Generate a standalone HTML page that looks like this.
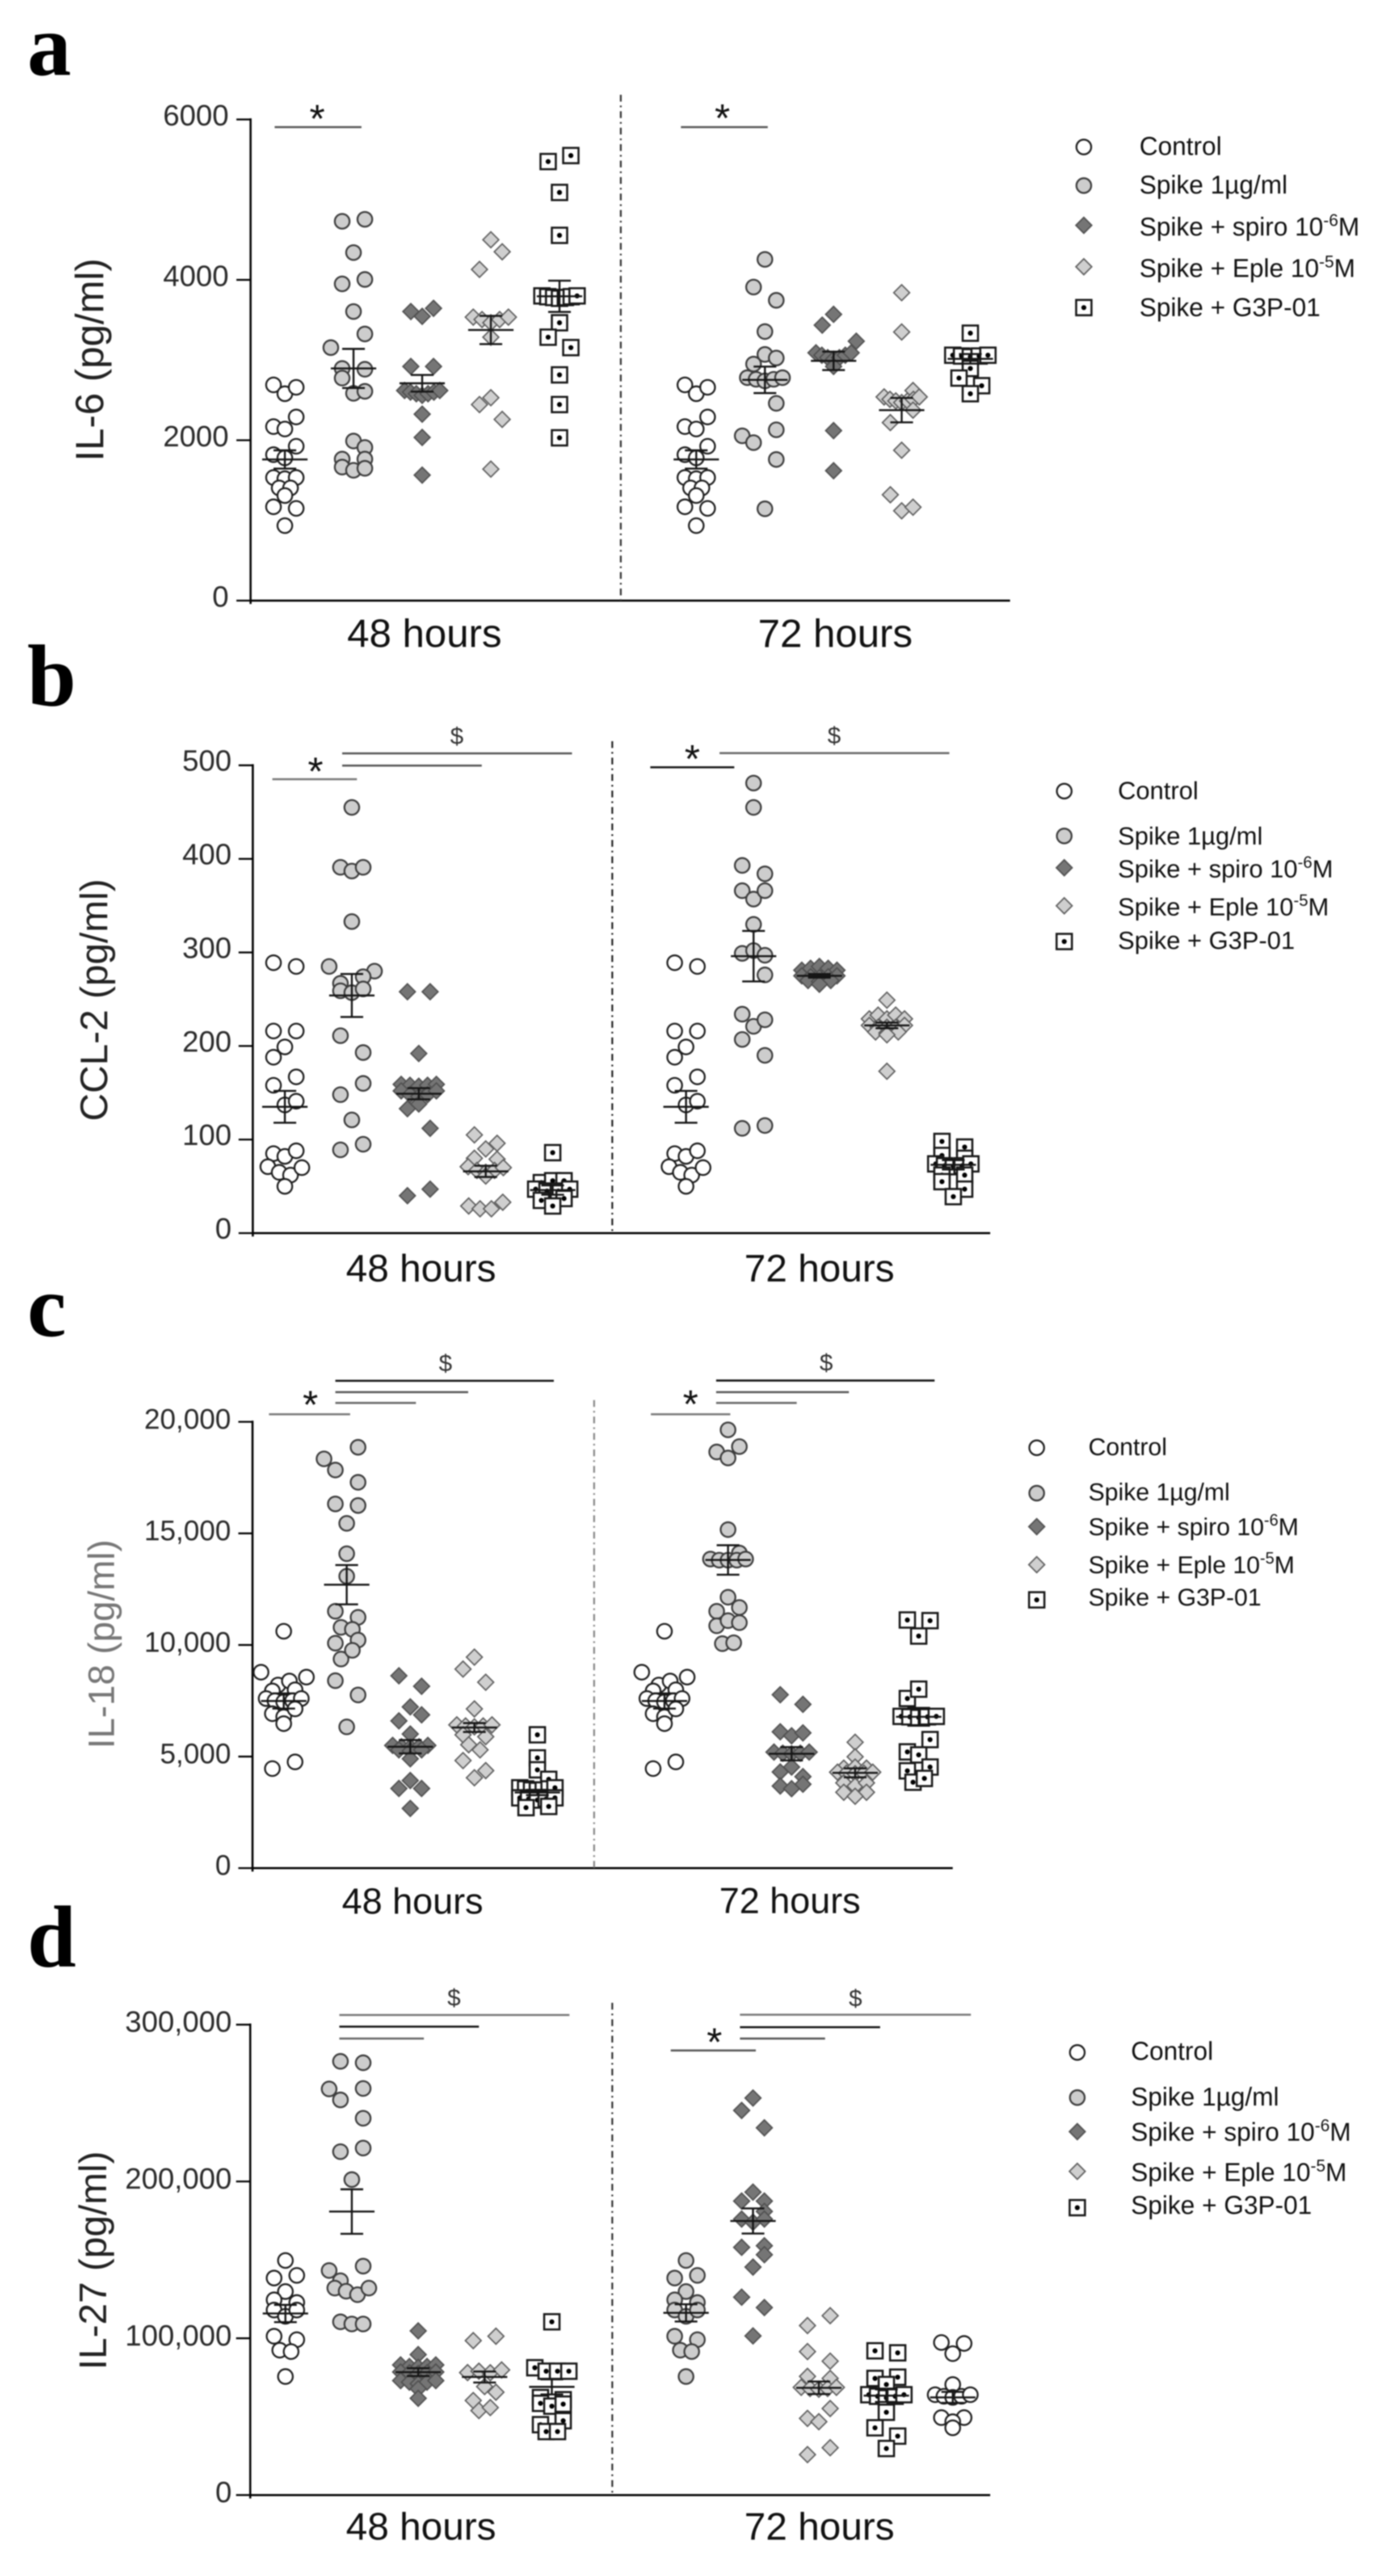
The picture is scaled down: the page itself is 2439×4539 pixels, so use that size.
<!DOCTYPE html>
<html lang="en">
<head>
<meta charset="utf-8">
<title>Cytokine release after Spike stimulation</title>
<style>
html,body{margin:0;padding:0;background:#fff;}
#figure{display:block;width:2439px;height:4539px;filter:blur(1px);font-family:"Liberation Sans",sans-serif;}
text{font-family:"Liberation Sans",sans-serif;}
</style>
</head>
<body>
<svg id="figure" xmlns="http://www.w3.org/2000/svg" width="2439" height="4539" viewBox="0 0 2439 4539"></svg>
<script>
/* Each series is a list of swarm rows. A row holds the values plotted side by side; null = empty slot in that row. */
const aTicks=[0,2000,4000,6000];
const aTickLabels=['0','2000','4000','6000'];
const aControl=[[2690,2580,2660],[2170,2140,2290],[1820,1780,1925],[1535,1520,1535],[null,1405,1405,null],[1310],[1170,1150],[935]];
const a48Spike=[[4730,4755],[4340],[3950,4005],[3605],[3155,null,null,3325,null],[2895,2885],[2775,2585,2610],[null,1990,1910],[1765,1765],[1665,1625,1650]];
const a48Spiro=[[3605,3545,3645],[2920,2920],[2620,2600,2580,2560,2580,2600,2620],[2325],[2035],[1565]];
const a48Eple=[[null,4500,4350],[4130,null,null],[3535,3505,3465,3505,3535],[3285],[2445,2530,null],[null,null,2260],[1640]];
const a48G3p=[[5475,5550],[5090],[4555],[3800,3790,3780,3770,3780,3790,3800],[3465],[3285,null,null],[null,null,3155],[2815],[2445],[2030]];
const a48Means=[1760,2895,2710,3375,3795];
const a48Sems=[114,244,104,176,195];
const a72Spike=[[4255],[3910,3745],[3355],[2950,3070,3025],[2780,2760,2740,2760,2780],[null,null,2460],[null,null,2130],[2055,1970,null,null,null],[null,null,1760],[1145]];
const a72Spiro=[[3435,3570,null],[null,null,null,null,3235],[3090,3060,3030,3010,3030,3060,3090],[2920],[2120],[1620]];
const a72Eple=[[3840],[3350],[null,null,2620],[2540,2510,2490,2470,2490,2510,2540],[null,null,2375],[2220,null,null],[1875],[1320,null,null],[null,1120,1165]];
const a72G3p=[[3335],[3060,3050,3040,3050,3060],[2895],[2775,2680],[2580]];
const a72Means=[1760,2753,2990,2375,3015];
const a72Sems=[114,165,115,152,60];

const bTicks=[0,100,200,300,400,500];
const bTickLabels=['0','100','200','300','400','500'];
const bControl=[[289,285],[216,216],[188,199,null],[158,167],[null,137,141],[85,82,88],[71,65,62,70],[50]];
const b48Spike=[[455],[391,387,391],[333],[285,null,null,null,280],[267,274],[259,257,261],[211,193],[148,160],[121],[89,95]];
const b48Spiro=[[258,258],[192],[159,158,157,158,159],[152,148,146,148,152],[133,138,null],[null,null,112],[40,47]];
const b48Eple=[[105,96],[90],[80,79],[71,67,65,67,70],[61],[29,26,26,33]];
const b48G3p=[[86],[54,56,56],[47,45,45,47],[35,37],[29]];
const b48Means=[135,254,149,66,46];
const b48Sems=[17,23,6,6,5];
const b72Spike=[[481],[455],[393,384],[366,357,366],[330],[299,302,297],[null,null,276],[234,221,228],[207,null,null],[null,null,190],[112,115]];
const b72Spiro=[[281,283,285,283,281],[275,274,273,274,275],[270,269,270],[266]];
const b72Eple=[[249],[229,233,229,233,229],[222,220,220,220,222],[215,214,215],[212],[173]];
const b72G3p=[[98,92],[83,80],[74,72,71,72,74],[62,null,62],[55,47],[39]];
const b72Means=[135,296,275,222,73];
const b72Sems=[17,27,2,3,5];

const cTicks=[0,5000,10000,15000,20000];
const cTickLabels=['0','5,000','10,000','15,000','20,000'];
const cControl=[[10615],[8780,null,null,null,8560],[null,8205,8385,null],[7940,7990],[7600,7500,7450,7500,7600],[6920,6780,7135],[6475],[4460,4760]];
const c48Spike=[[null,null,18860],[18340,17840,null,null,null],[null,null,17290],[16320,16250],[15450],[14090],[13080],[11510,11240],[null,10790,10700,null],[10080,10220],[null,9370,9760,null],[8400,null,null],[null,null,7760],[6330]];
const c48Spiro=[[8620,8150],[null,7225,6870],[6600,null,null],[6010],[5500,5440,5420,5440,5500],[5300,5250,5300],[4900],[3570,3925,3570],[2675]];
const c48Eple=[[9455],[8920,8330],[null,7135,null],[6420,6370,6330,6370,6420],[5975,5890],[null,5530,5300,null],[4820,null],[null,4050,4370]];
const c48G3p=[[5975],[4940],[null,4405,null],[null,null,3980],[3600,3550,3500,3480,3500,3550,3600],[3150,3100,3050,3100,3150],[2710,2765]];
const c48Means=[7490,12700,5440,6300,3390];
const c48Sems=[340,880,300,200,120];
const c72Spike=[[19640],[18650,18380,18890],[15170],[null,null,14120],[13850,13800,13800,13800,13850],[12140],[11510,null,11680],[10860,11090,11000],[null,10060,10100,null]];
const c72Spiro=[[7770,7340],[6110,5930,6060],[5200,5150,5120,5150,5200],[4530],[4310,4100],[3680,3560,3760]];
const c72Eple=[[5640],[4990],[4480,4530,4480],[4300,4250,4230,4250,4300],[3820,3680,3820],[3400,3400],[3220]];
const c72G3p=[[11120,11090],[10400],[7600,8020,null],[6800,6780,6750,6780,6800],[null,null,5760],[5210,5075,null],[4360,null,4530],[null,3850,4020,null]];
const c72Means=[7490,13810,5125,4270,6780];
const c72Sems=[340,660,300,200,400];

const dTicks=[0,100000,200000,300000];
const dTickLabels=['0','100,000','200,000','300,000'];
const dControl=[[149600],[138400,140100],[129800],[124500,122800],[118000,114000,118000],[101300,99100],[null,92400,91500,null],[75600]];
const d48Spike=[[276600,275700],[259000,252000,null,259300,null],[null,null,240300],[219000,221300],[201200],[143200,null,null,146000,null],[null,136700,null,null,null],[132000,130000,127800,132000],[110500,109100,109100]];
const d48Spiro=[[104700],[89600],[83000,82000,81500,82000,83000],[78500,78000,77500,78000,78500],[73000,72000,71000,72000,73000],[67800],[61700]];
const d48Eple=[[98500,101300],[78100,79000,78000,79800],[69200],[null,null,65600],[60300,null,null],[null,53900,55800,null]];
const d48G3p=[[110500],[81200,79000,79000,79000],[62200,60800],[58500,56700,58000],[44900,47400],[null,40500,40500,null]];
const d48Means=[115800,180800,78400,75300,69000];
const d48Sems=[5500,14200,2500,3500,4800];
const d72Spiro=[[253200],[245300,null,null],[null,null,234200],[193200],[187500,187500],[null,null,180900],[176000,174000,176000],[158000,159000],[null,null,153300],[null,145400,null],[126200,119600],[101500]];
const d72Eple=[[108100,114400],[91500,85400],[75700,74400],[68700,68000,67500,68000,68700],[null,null,55200],[48900,46800,null],[25800,30200]];
const d72G3p=[[92000,90700],[74400,75200],[70500],[64000,63000,62000,63000,64000],[52800],[42900,37600],[29700]];
const d72Last=[[97300,90200,96700],[70500],[64000,63000,62300,63000,64000],[49400,null,49400],[46800],[42900]];
const d72Means=[116200,174800,68400,63400,62300];
const d72Sems=[5500,8000,4000,4000,3500];

const legendNames=['Control','Spike 1\u00b5g/ml','Spike + spiro 10','Spike + Eple 10','Spike + G3P-01'];
const legendSups=['','','-6','-5',''];
const legendSuffix=['','','M','M',''];
const legendKinds=['control','spike','spiro','eple','g3p'];

const panels=[
 {id:'a',letter:'a',letterBase:132,axisX:441.6,yTop:210.5,y0:1058.3,yMax:6000,xEnd:1780,tickEnd:403,tickFont:52,tickLift:7,
  ticks:aTicks,tickLabels:aTickLabels,title:'IL-6 (pg/ml)',titleFont:70,titleX:182,titleY:634,titleColor:'#222',
  time1:{text:'48 hours',x:748,y:1140,fs:70},time2:{text:'72 hours',x:1472,y:1140,fs:70},
  divider:{x:1094,top:167,color:'#333'},
  c1:[502,623,744,865,986],c2:[1227,1348,1469,1589,1710],
  s1:[aControl,a48Spike,a48Spiro,a48Eple,a48G3p],s2:[aControl,a72Spike,a72Spiro,a72Eple,a72G3p],
  kinds1:legendKinds,kinds2:legendKinds,
  m1:a48Means,e1:a48Sems,m2:a72Means,e2:a72Sems,
  lines:[[484,637,224,'#555'],[1200,1353,224,'#555']],stars:[[559,200],[1273,199]],dollars:[],
  legend:{mx:1910,tx:2008,fs:45,my:[259,327,397,470,542],ty:[273,341,415,488,557]}},
 {id:'b',letter:'b',letterBase:1243,axisX:445.5,yTop:1348.5,y0:2172.8,yMax:500,xEnd:1745,tickEnd:408,tickFont:52,tickLift:8,
  ticks:bTicks,tickLabels:bTickLabels,title:'CCL-2 (pg/ml)',titleFont:68,titleX:189,titleY:1762,titleColor:'#222',
  time1:{text:'48 hours',x:742,y:2258,fs:68},time2:{text:'72 hours',x:1444,y:2258,fs:68},
  divider:{x:1079,top:1306,color:'#222'},
  c1:[502,620,738,856,974],c2:[1209,1328,1444,1563,1680],
  s1:[bControl,b48Spike,b48Spiro,b48Eple,b48G3p],s2:[bControl,b72Spike,b72Spiro,b72Eple,b72G3p],
  kinds1:legendKinds,kinds2:legendKinds,
  m1:b48Means,e1:b48Sems,m2:b72Means,e2:b72Sems,
  lines:[[480,629,1373,'#777'],[603,849,1349,'#555'],[603,1008,1327.5,'#555'],[1146,1294,1352,'#111'],[1268,1673,1327,'#666']],
  stars:[[556,1350],[1220,1328]],dollars:[[805,1296],[1470,1295]],
  legend:{mx:1875.5,tx:1970,fs:44,my:[1394,1473,1529,1596,1659],ty:[1408,1488,1546,1613,1672]}},
 {id:'c',letter:'c',letterBase:2354,axisX:445,yTop:2505.3,y0:3291.7,yMax:20000,xEnd:1679,tickEnd:407,tickFont:50,tickLift:5,
  ticks:cTicks,tickLabels:cTickLabels,title:'IL-18 (pg/ml)',titleFont:65,titleX:201,titleY:2897,titleColor:'#777',
  time1:{text:'48 hours',x:727,y:3372,fs:64},time2:{text:'72 hours',x:1392,y:3371,fs:64},
  divider:{x:1047,top:2467,color:'#888'},
  c1:[500,611,723,836,947],c2:[1171,1283,1395,1507,1619],
  s1:[cControl,c48Spike,c48Spiro,c48Eple,c48G3p],s2:[cControl,c72Spike,c72Spiro,c72Eple,c72G3p],
  kinds1:legendKinds,kinds2:legendKinds,
  m1:c48Means,e1:c48Sems,m2:c72Means,e2:c72Sems,
  lines:[[474,617,2492,'#777'],[591,733,2472,'#666'],[591,825,2453,'#555'],[591,976,2433,'#111'],[1147,1287,2492,'#777'],[1262,1404,2472,'#666'],[1262,1496,2453,'#555'],[1262,1647,2432.6,'#111']],
  stars:[[547,2466],[1217,2465]],dollars:[[785,2401],[1456,2400]],
  legend:{mx:1827,tx:1918,fs:43,my:[2551,2631,2690,2757,2819],ty:[2564,2643.5,2705,2772,2829]}},
 {id:'d',letter:'d',letterBase:3465,axisX:441,yTop:3567.5,y0:4396.4,yMax:300000,xEnd:1745,tickEnd:408.4,tickFont:52,tickLift:5,
  ticks:dTicks,tickLabels:dTickLabels,title:'IL-27 (pg/ml)',titleFont:68,titleX:187,titleY:3983,titleColor:'#222',
  time1:{text:'48 hours',x:742,y:4475,fs:68},time2:{text:'72 hours',x:1444,y:4475,fs:68},
  divider:{x:1079,top:3529,color:'#333'},
  c1:[503,620,737,854,972.5],c2:[1209,1327,1443,1562,1679],
  s1:[dControl,d48Spike,d48Spiro,d48Eple,d48G3p],s2:[dControl,d72Spiro,d72Eple,d72G3p,d72Last],
  kinds1:legendKinds,kinds2:['spike','spiro','eple','g3p','control'],
  m1:d48Means,e1:d48Sems,m2:d72Means,e2:d72Sems,
  lines:[[598,747,3592,'#666'],[598,844,3571,'#111'],[598,1003.5,3550.5,'#777'],[1182,1332,3613,'#555'],[1304,1454,3592,'#555'],[1304,1551,3572,'#111'],[1304,1711,3550,'#777']],
  stars:[[1259,3589]],dollars:[[800,3519],[1507.5,3520]],
  legend:{mx:1898.5,tx:1993,fs:45,my:[3616.5,3696,3756,3826,3890],ty:[3629.5,3710,3772,3843,3901]}}
];

const NS='http://www.w3.org/2000/svg';
const root=document.getElementById('figure');
const SLOT=20;

function svgEl(tag,attrs,parent,txt){
  const el=document.createElementNS(NS,tag);
  for(const k in attrs)el.setAttribute(k,attrs[k]);
  if(txt!==undefined)el.textContent=txt;
  parent.appendChild(el);
  return el;
}
function yAxisScale(p,v){return p.y0-(v/p.yMax)*(p.y0-p.yTop);}
function rowOffsets(row){
  const n=row.length;
  if(n===2)return [-SLOT,SLOT];
  const filled=row.filter(v=>v!==null).length;
  const step=filled>=5?62/(n-1):SLOT;
  return row.map((_,i)=>(i-(n-1)/2)*step);
}
function drawMarker(kind,x,y,parent){
  const g=svgEl('g',{},parent);
  
  
  if(kind==='control'){
    svgEl('circle',{cx:x,cy:y,r:13,fill:'#fff',stroke:'#1e1e1e','stroke-width':3.2},g);
  }else if(kind==='spike'){
    svgEl('circle',{cx:x,cy:y,r:13,fill:'#cdcdcd',stroke:'#3c3c3c','stroke-width':3.2},g);
  }else if(kind==='spiro'){
    svgEl('polygon',{points:[x,y-14,x+14,y,x,y+14,x-14,y].join(' '),fill:'#757575',stroke:'#505050','stroke-width':2.4},g);
  }else if(kind==='eple'){
    svgEl('polygon',{points:[x,y-14,x+14,y,x,y+14,x-14,y].join(' '),fill:'#cfcfcf',stroke:'#5e5e5e','stroke-width':2.4},g);
  }else{
    svgEl('rect',{x:x-13.5,y:y-13.5,width:27,height:27,fill:'#fff',stroke:'#181818','stroke-width':3.6},g);
    svgEl('circle',{cx:x,cy:y,r:4.4,fill:'#000'},g);
  }
}
function drawGroup(p,series,kind,cx,mean,sem,parent){
  const g=svgEl('g',{},parent);
  
  
  series.forEach(row=>{
    const off=rowOffsets(row);
    row.forEach((v,i)=>{
      if(v===null)return;
      drawMarker(kind,cx+off[i],yAxisScale(p,v),g);
    });
  });
  const yM=yAxisScale(p,mean),yU=yAxisScale(p,mean+sem),yL=yAxisScale(p,mean-sem);
  const st={stroke:'#151515','stroke-width':3.4};
  const ml=svgEl('line',Object.assign({x1:cx-40,x2:cx+40,y1:yM,y2:yM},st),g);
  
  
  const eb=svgEl('line',Object.assign({x1:cx,x2:cx,y1:yU,y2:yL},st),g);
  
  
  const cu=svgEl('line',Object.assign({x1:cx-20,x2:cx+20,y1:yU,y2:yU},st),g);
  
  
  const cl=svgEl('line',Object.assign({x1:cx-20,x2:cx+20,y1:yL,y2:yL},st),g);
  
  
}
function drawPanel(p){
  const g=svgEl('g',{},root);
  
  

  const letter=svgEl('text',{x:48,y:p.letterBase,'font-size':155,'font-weight':'bold',fill:'#000',style:'font-family:"Liberation Serif",serif'},g,p.letter);
  
  

  const yAxis=svgEl('line',{x1:p.axisX,x2:p.axisX,y1:p.yTop-2,y2:p.y0+6,stroke:'#000','stroke-width':3.6},g);
  
  
  const xAxis=svgEl('line',{x1:p.axisX,x2:p.xEnd,y1:p.y0,y2:p.y0,stroke:'#000','stroke-width':3.6},g);
  
  

  p.ticks.forEach((t,i)=>{
    const y=yAxisScale(p,t);
    const tk=svgEl('line',{x1:p.axisX-25,x2:p.axisX,y1:y,y2:y,stroke:'#000','stroke-width':3.2},g);
    
    
    const lb=svgEl('text',{x:p.tickEnd,y:y+p.tickFont*0.34-p.tickLift,'font-size':p.tickFont,'text-anchor':'end',fill:'#2a2a2a'},g,p.tickLabels[i]);
    
    
  });

  const title=svgEl('text',{x:0,y:0,'font-size':p.titleFont,'text-anchor':'middle',fill:p.titleColor,transform:'translate('+p.titleX+' '+p.titleY+') rotate(-90)'},g,p.title);
  
  

  [p.time1,p.time2].forEach(t=>{
    const el=svgEl('text',{x:t.x,y:t.y,'font-size':t.fs,'text-anchor':'middle',fill:'#111'},g,t.text);
    
    
  });

  const dv=svgEl('line',{x1:p.divider.x,x2:p.divider.x,y1:p.divider.top,y2:p.y0,stroke:p.divider.color,'stroke-width':3.2,'stroke-dasharray':'12 7 3 7'},g);
  
  

  p.s1.forEach((s,i)=>drawGroup(p,s,p.kinds1[i],p.c1[i],p.m1[i],p.e1[i],g));
  p.s2.forEach((s,i)=>drawGroup(p,s,p.kinds2[i],p.c2[i],p.m2[i],p.e2[i],g));

  p.lines.forEach(l=>{
    const el=svgEl('line',{x1:l[0],x2:l[1],y1:l[2],y2:l[2],stroke:l[3],'stroke-width':3.6},g);
    
    
  });
  p.stars.forEach(s=>{
    const el=svgEl('text',{x:s[0],y:s[1]+33,'font-size':70,'text-anchor':'middle',fill:'#111'},g,'*');
    
    
  });
  p.dollars.forEach(s=>{
    const el=svgEl('text',{x:s[0],y:s[1]+15,'font-size':42,'text-anchor':'middle',fill:'#333'},g,'$');
    
    
  });

  const lg=svgEl('g',{},g);
  
  
  legendNames.forEach((name,i)=>{
    drawMarker(legendKinds[i],p.legend.mx,p.legend.my[i],lg);
    const t=svgEl('text',{x:p.legend.tx,y:p.legend.ty[i],'font-size':p.legend.fs,fill:'#111'},lg);
    
    
    svgEl('tspan',{},t,name);
    if(legendSups[i]){
      svgEl('tspan',{dy:-17,'font-size':p.legend.fs*0.66},t,legendSups[i]);
      svgEl('tspan',{dy:17},t,legendSuffix[i]);
    }
  });
}
panels.forEach(drawPanel);
</script>
</body>
</html>
